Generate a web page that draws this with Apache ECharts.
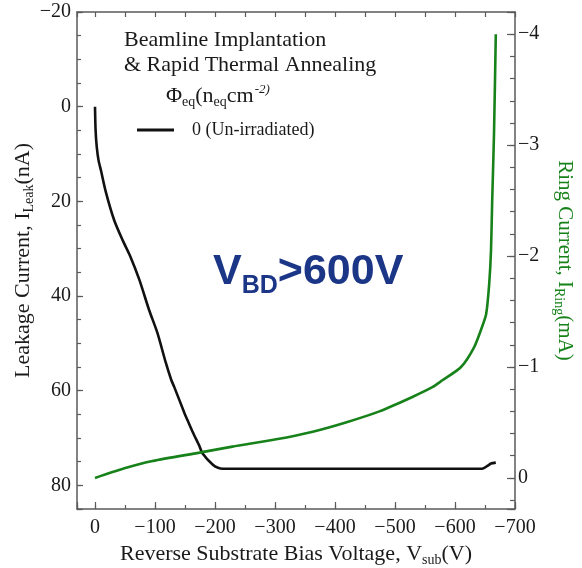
<!DOCTYPE html>
<html>
<head>
<meta charset="utf-8">
<script src="https://cdn.jsdelivr.net/npm/echarts@6/dist/echarts.min.js"></script>
<style>
  html, body { margin: 0; padding: 0; background: #fff; }
  #chart { width: 582px; height: 568px; }
</style>
</head>
<body>
<div id="chart"></div>
<script>
// Leakage current (nA) versus substrate bias (V)
const leakVolt = [0, -1, -3, -6, -10, -18, -32, -46, -58, -74, -90, -104, -118, -127, -132, -149, -152, -163, -174, -179, -196, -205, -213, -260, -350, -450, -550, -645, -654, -660, -668];
const leakCurrent = [0, 5, 8.6, 11.4, 13.5, 18, 24, 28.2, 31.4, 36.6, 42.9, 47.8, 54.1, 57.7, 59.2, 64.7, 65.6, 68.8, 71.7, 73.2, 75.6, 76.3, 76.5, 76.5, 76.5, 76.5, 76.5, 76.5, 75.9, 75.4, 75.2];

// Guard-ring current (mA) versus substrate bias (V)
const ringVolt = [0, -49, -96, -174, -229, -302, -363, -418, -474, -529, -563, -579, -610, -632, -645, -652, -657, -660, -662, -665, -668];
const ringCurrent = [0, -0.087, -0.153, -0.228, -0.282, -0.348, -0.417, -0.5, -0.6, -0.73, -0.82, -0.88, -1.0, -1.18, -1.36, -1.48, -1.75, -2.05, -2.5, -3.1, -4.0];

const legendName = '0 (Un-irradiated)';

const SERIF = '"Liberation Serif", "Times New Roman", serif';
const SANS = '"Liberation Sans", Arial, sans-serif';
const GREEN = '#17821a';
const AXIS_COLOR = '#5a5a5a';
const INK = '#1a1a1a';

const minus = v => String(v).replace('-', '\u2212');

const tickLabel = {
  fontFamily: SERIF, fontSize: 20, color: INK
};

const pairs = (xs, ys) => xs.map((x, i) => [x, ys[i]]);

const line = show => ({ show: show, onZero: false, lineStyle: { color: AXIS_COLOR, width: 1.5 } });
const ticks = len => ({ show: true, inside: true, length: len, lineStyle: { color: AXIS_COLOR, width: 1.2 } });

// rich-text styles for an axis title with a subscript
const titleRich = (size, color) => ({
  a: { fontFamily: SERIF, fontSize: size, color: color },
  s: { fontFamily: SERIF, fontSize: Math.round(size * 0.65), color: color, padding: [12, 0, 0, 0] }
});

const chart = echarts.init(document.getElementById('chart'), null, { renderer: 'canvas' });

const option = {
  animation: false,
  backgroundColor: '#ffffff',
  grid: { left: 77, right: 67, top: 12, bottom: 59, containLabel: false, outerBoundsMode: 'none' },
  legend: {
    data: [legendName],
    left: 132, top: 116,
    icon: 'rect', itemWidth: 37, itemHeight: 3,
    textStyle: { fontFamily: SERIF, fontSize: 18, color: INK, padding: [0, 0, 0, 13] }
  },
  xAxis: [
    {
      type: 'value', position: 'bottom', min: -700, max: 30, interval: 100, inverse: true,
      axisLine: line(true), axisTick: ticks(7),
      axisLabel: Object.assign({ margin: 9, formatter: v => (v > 0 ? '' : minus(v)) }, tickLabel),
      splitLine: { show: false },
      name: '{a|Reverse Substrate Bias Voltage, V}{s|sub}{a|(V)}',
      nameLocation: 'middle', nameGap: 32,
      nameTextStyle: { rich: titleRich(22, INK) }
    },
    {
      type: 'value', position: 'bottom', min: -700, max: 30, interval: 50, inverse: true,
      axisLine: line(false), axisTick: ticks(4),
      axisLabel: { show: false }, splitLine: { show: false }
    },
    {
      type: 'value', position: 'top', min: -700, max: 30, interval: 50, inverse: true,
      axisLine: line(true), axisTick: ticks(5),
      axisLabel: { show: false }, splitLine: { show: false }
    }
  ],
  yAxis: [
    {
      type: 'value', position: 'left', min: -20, max: 85, interval: 20, inverse: true,
      axisLine: line(true), axisTick: ticks(6),
      axisLabel: Object.assign({ margin: 6, formatter: v => (v % 20 === 0 ? minus(v) : '') }, tickLabel),
      splitLine: { show: false },
      name: '{a|Leakage Current, I}{s|Leak}{a|(nA)}',
      nameLocation: 'middle', nameGap: 41, nameRotate: 90, nameMoveOverlap: false,
      nameTextStyle: { rich: titleRich(22, INK) }
    },
    {
      type: 'value', position: 'left', min: -20, max: 85, interval: 5, inverse: true,
      axisLine: line(false), axisTick: ticks(4),
      axisLabel: { show: false }, splitLine: { show: false }
    },
    {
      type: 'value', position: 'right', min: -4.2, max: 0.28, splitNumber: 5, inverse: true,
      axisLine: line(true), axisTick: ticks(8),
      axisLabel: Object.assign({
        margin: 3,
        formatter: v => (Math.abs(v - Math.round(v)) < 1e-6 ? minus(Math.round(v)) : '')
      }, tickLabel),
      splitLine: { show: false },
      name: '{a|Ring Current, I}{s|Ring}{a|(mA)}',
      nameLocation: 'middle', nameGap: 37, nameRotate: -90,
      nameTextStyle: { rich: titleRich(21, GREEN) }
    },
    {
      type: 'value', position: 'right', min: -4.2, max: 0.28, interval: 0.2, inverse: true,
      axisLine: line(false), axisTick: ticks(5),
      axisLabel: { show: false }, splitLine: { show: false }
    }
  ],
  series: [
    {
      name: legendName, type: 'line', xAxisIndex: 0, yAxisIndex: 0,
      data: pairs(leakVolt, leakCurrent),
      showSymbol: false, smooth: 0.25,
      lineStyle: { color: '#111111', width: 2.6 },
      itemStyle: { color: '#111111' }
    },
    {
      name: 'Ring current', type: 'line', xAxisIndex: 0, yAxisIndex: 2,
      data: pairs(ringVolt, ringCurrent),
      showSymbol: false, smooth: 0.25,
      lineStyle: { color: GREEN, width: 2.6 },
      itemStyle: { color: GREEN }
    }
  ],
  graphic: [
    {
      type: 'text', left: 124, top: 28,
      style: {
        text: 'Beamline Implantation\n& Rapid Thermal Annealing',
        font: '22px ' + SERIF, fill: INK, lineHeight: 25
      }
    },
    {
      type: 'text', left: 166, top: 83,
      style: {
        text: '{a|\u03A6}{s|eq}{a|(n}{s|eq}{a|cm}{p|-2)}',
        rich: {
          a: { fontFamily: SERIF, fontSize: 22, fill: INK },
          s: { fontFamily: SERIF, fontSize: 14, fill: INK, padding: [12, 0, 0, 0] },
          p: { fontFamily: SERIF, fontSize: 13, fontStyle: 'italic', fill: INK, padding: [0, 0, 14, 1] }
        }
      }
    },
    {
      type: 'text', left: 213, top: 251,
      style: {
        text: '{v|V}{s|BD}{v|>600V}',
        rich: {
          v: { fontFamily: SANS, fontSize: 43, fontWeight: 'bold', fill: '#1c3687' },
          s: { fontFamily: SANS, fontSize: 25, fontWeight: 'bold', fill: '#1c3687', padding: [28, 0, 0, 0] }
        }
      }
    }
  ]
};

chart.setOption(option);
</script>
</body>
</html>
